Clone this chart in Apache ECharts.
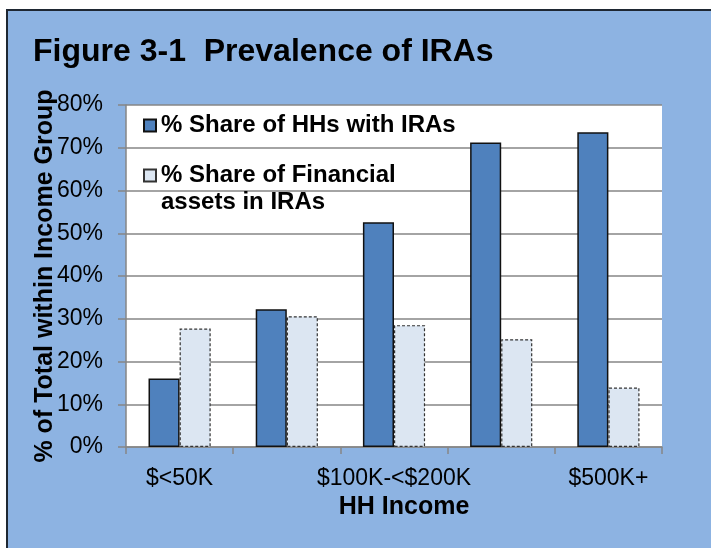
<!DOCTYPE html>
<html>
<head>
<meta charset="utf-8">
<script src="https://cdn.jsdelivr.net/npm/echarts@6/dist/echarts.min.js"></script>
<style>
  html, body { margin: 0; padding: 0; background: #fff; }
  #chart { width: 711px; height: 548px; }
</style>
</head>
<body>
<div id="chart"></div>
<script>
// HH income groups
const categories = ['$<50K', '$50K-<$100K', '$100K-<$200K', '$200K-<$500K', '$500K+']
// % share of HHs with IRAs
const hhShare = [16.0, 32.2, 52.6, 71.2, 73.6]
// % share of financial assets in IRAs
const assetShare = [27.7, 30.6, 28.5, 25.2, 13.9]

const font = 'Arial, "Liberation Sans", sans-serif'
const gray = '#868686'
const nameHH = '% Share of HHs with IRAs'
const nameAssets = '% Share of Financial\nassets in IRAs'

const chart = echarts.init(document.getElementById('chart'))
const options = {
  backgroundColor: '#fff',
  textStyle: { fontFamily: font },
  animation: false,
  graphic: [
    {
      type: 'rect',
      z: -10,
      shape: { x: 7, y: 10, width: 760, height: 600 },
      style: { fill: '#8DB3E2', stroke: '#1e2732', lineWidth: 2 }
    },
    {
      type: 'text',
      left: 33,
      top: 36,
      style: {
        text: 'Figure 3-1  Prevalence of IRAs',
        font: 'bold 32px ' + font,
        fill: '#000'
      }
    }
  ],
  grid: {
    left: 126,
    right: 49,
    top: 105,
    bottom: 101,
    show: true,
    backgroundColor: '#fff',
    borderWidth: 0
  },
  legend: {
    orient: 'vertical',
    left: 143,
    top: 112,
    padding: 0,
    itemGap: -4,
    itemWidth: 12,
    itemHeight: 12,
    icon: 'rect',
    // push the wrapped label down so its first line sits beside the marker
    formatter: name => (name === nameAssets ? '\n' + name : name),
    textStyle: { fontSize: 24, fontWeight: 'bold', color: '#000', lineHeight: 27 },
    data: [nameHH, nameAssets]
  },
  xAxis: {
    type: 'category',
    data: categories,
    name: 'HH Income',
    nameLocation: 'middle',
    nameGap: 47,
    nameTextStyle: { fontSize: 25, fontWeight: 'bold', color: '#000', padding: [0, 0, 0, 20] },
    axisLine: { lineStyle: { color: gray, width: 1.5 } },
    axisTick: { show: true, interval: 0, length: 7, lineStyle: { color: gray, width: 1.5 } },
    axisLabel: { interval: 1, fontSize: 23, color: '#000', margin: 20 }
  },
  yAxis: {
    type: 'value',
    min: 0,
    max: 80,
    interval: 10,
    name: '% of Total within Income Group',
    nameLocation: 'middle',
    nameRotate: 90,
    nameGap: 68,
    nameMoveOverlap: false,
    nameTextStyle: { fontSize: 25, fontWeight: 'bold', color: '#000' },
    axisLine: { show: true, lineStyle: { color: gray, width: 1.5 } },
    axisTick: { show: true, length: 8, lineStyle: { color: gray, width: 1.5 } },
    axisLabel: { formatter: '{value}%', fontSize: 23, color: '#000', margin: 23 },
    splitLine: { lineStyle: { color: gray, width: 1.5 } }
  },
  series: [
    {
      name: nameHH,
      type: 'bar',
      barGap: '0%',
      barCategoryGap: '42%',
      data: hhShare,
      itemStyle: { color: '#4F81BD', borderColor: '#111', borderWidth: 1.5 }
    },
    {
      name: nameAssets,
      type: 'bar',
      data: assetShare,
      itemStyle: { color: '#DCE6F2', borderColor: '#333', borderWidth: 1.2, borderType: [3, 2] }
    }
  ]
}
chart.setOption(options, true)
</script>
</body>
</html>
